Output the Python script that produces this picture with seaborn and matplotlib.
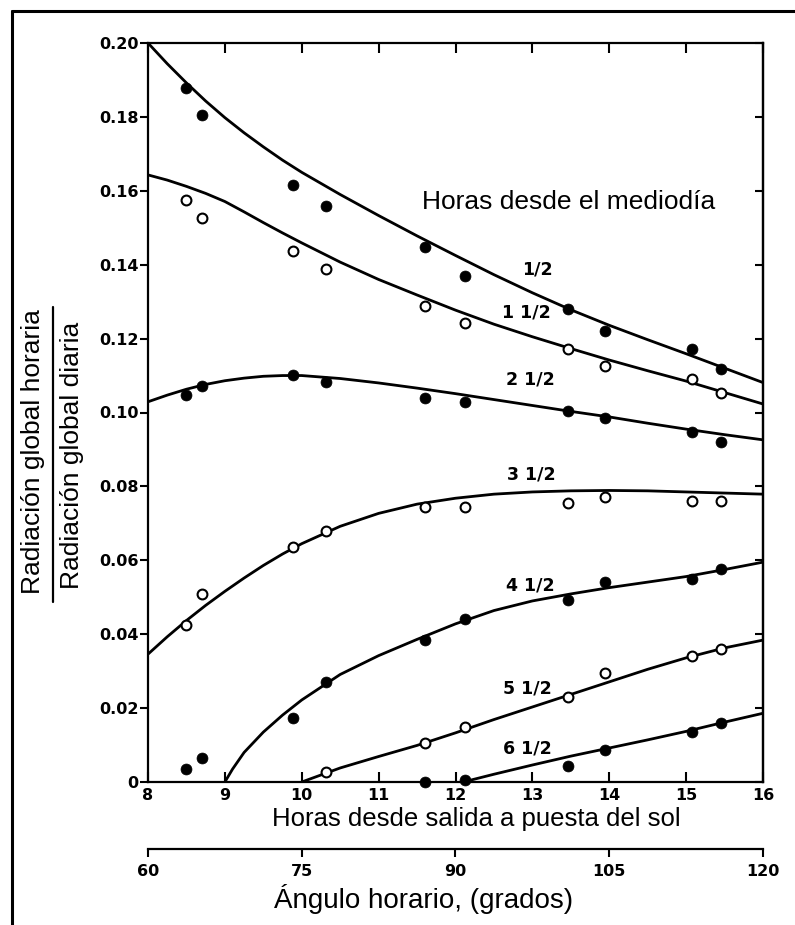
import numpy as np
import pandas as pd
import seaborn as sns
import matplotlib.pyplot as plt
from matplotlib.lines import Line2D

# day length (hours from sunrise to sunset) of the measured points
day_hours = [8.50, 8.70, 9.88, 10.32, 11.60, 12.13, 13.46, 13.95, 15.07, 15.46]

# measured ratios, one list per "hours from noon" group
pts_05 = [0.1877, 0.1805, 0.1616, 0.1559, 0.1447, 0.1369, 0.1279, 0.1221, 0.1172, 0.1118]
pts_15 = [0.1575, 0.1527, 0.1438, 0.1388, 0.1289, 0.1241, 0.1172, 0.1127, 0.1091, 0.1054]
pts_25 = [0.1047, 0.1072, 0.1101, 0.1082, 0.1038, 0.1029, 0.1004, 0.0984, 0.0948, 0.0921]
pts_35 = [0.0425, 0.0509, 0.0635, 0.0680, 0.0745, 0.0743, 0.0754, 0.0771, 0.0760, 0.0761]
pts_45 = [0.0034, 0.0064, 0.0174, 0.0271, 0.0384, 0.0440, 0.0493, 0.0542, 0.0549, 0.0576]
pts_55 = [np.nan, np.nan, np.nan, 0.0028, 0.0105, 0.0150, 0.0231, 0.0294, 0.0341, 0.0360]
pts_65 = [np.nan, np.nan, np.nan, np.nan, 0.0000, 0.0005, 0.0044, 0.0087, 0.0136, 0.0160]

# fitted curves
curve_h = [8, 8.25, 8.5, 8.75, 9, 9.25, 9.5, 9.75, 10, 10.5, 11, 11.5, 12, 12.5, 13, 13.5, 14, 14.5, 15, 15.5, 16]
curve_05 = [0.2000, 0.1944, 0.1892, 0.1843, 0.1798, 0.1757, 0.1719, 0.1683, 0.1650, 0.1590,
            0.1533, 0.1478, 0.1425, 0.1373, 0.1324, 0.1278, 0.1236, 0.1197, 0.1159, 0.1120, 0.1081]
curve_15 = [0.1643, 0.1629, 0.1612, 0.1593, 0.1571, 0.1543, 0.1514, 0.1486, 0.1459, 0.1407,
            0.1360, 0.1318, 0.1277, 0.1239, 0.1205, 0.1173, 0.1142, 0.1113, 0.1085, 0.1054, 0.1023]
curve_25 = [0.1029, 0.1047, 0.1063, 0.1076, 0.1086, 0.1093, 0.1098, 0.1100, 0.1100, 0.1092,
            0.1080, 0.1066, 0.1051, 0.1035, 0.1019, 0.1003, 0.0988, 0.0971, 0.0955, 0.0940, 0.0926]
curve_35 = [0.0346, 0.0393, 0.0437, 0.0478, 0.0516, 0.0552, 0.0586, 0.0617, 0.0645, 0.0692,
            0.0727, 0.0752, 0.0768, 0.0779, 0.0785, 0.0788, 0.0789, 0.0788, 0.0785, 0.0782, 0.0779]
curve_45_h = [9.0, 9.1, 9.25, 9.5, 9.75, 10, 10.5, 11, 11.5, 12, 12.5, 13, 13.5, 14, 14.5, 15, 15.5, 16]
curve_45 = [0.0, 0.0035, 0.0080, 0.0135, 0.0181, 0.0222, 0.0291, 0.0342, 0.0386, 0.0428,
            0.0464, 0.0490, 0.0509, 0.0526, 0.0541, 0.0556, 0.0575, 0.0595]
curve_55_h = [10.0, 10.5, 11, 11.5, 12, 12.5, 13, 13.5, 14, 14.5, 15, 15.5, 16]
curve_55 = [0.0, 0.0038, 0.0069, 0.0099, 0.0133, 0.0169, 0.0203, 0.0237, 0.0271,
            0.0305, 0.0336, 0.0363, 0.0384]
curve_65_h = [12.1, 12.5, 13, 13.5, 14, 14.5, 15, 15.5, 16]
curve_65 = [0.0, 0.0021, 0.0046, 0.0070, 0.0092, 0.0114, 0.0137, 0.0162, 0.0186]

group_labels = ["1/2", "1 1/2", "2 1/2", "3 1/2", "4 1/2", "5 1/2", "6 1/2"]
filled = [True, False, True, False, True, False, True]
label_x = [13.06, 12.92, 12.98, 12.98, 12.97, 12.94, 12.94]
label_y = [0.1386, 0.1271, 0.1090, 0.0831, 0.0533, 0.0253, 0.0091]

y_ticks = [0, 0.02, 0.04, 0.06, 0.08, 0.10, 0.12, 0.14, 0.16, 0.18, 0.20]
y_ticklabels = ["0", "0.02", "0.04", "0.06", "0.08", "0.10", "0.12", "0.14", "0.16", "0.18", "0.20"]
x_ticks = [8, 9, 10, 11, 12, 13, 14, 15, 16]
angle_ticks = [60, 75, 90, 105, 120]

pts = [pts_05, pts_15, pts_25, pts_35, pts_45, pts_55, pts_65]
curves = [(curve_h, curve_05), (curve_h, curve_15), (curve_h, curve_25), (curve_h, curve_35),
          (curve_45_h, curve_45), (curve_55_h, curve_55), (curve_65_h, curve_65)]

pts_df = pd.concat([pd.DataFrame({"horas": day_hours, "ratio": p, "grupo": g, "lleno": f})
                    for p, g, f in zip(pts, group_labels, filled)]).dropna()
curve_df = pd.concat([pd.DataFrame({"horas": h, "ratio": v, "grupo": g})
                      for (h, v), g in zip(curves, group_labels)])

sns.set_style("ticks")
plt.rcParams["font.family"] = ["Liberation Sans", "DejaVu Sans"]
plt.rcParams.update({"text.color": "black", "axes.edgecolor": "black",
                     "xtick.color": "black", "ytick.color": "black",
                     "axes.labelcolor": "black"})

W, H = 795, 925
fig = plt.figure(figsize=(W / 100, H / 100), dpi=100)
ax = fig.add_axes([148 / W, 1 - 782 / H, (763 - 148) / W, (782 - 43) / H])

sns.lineplot(data=curve_df, x="horas", y="ratio", units="grupo", estimator=None,
             sort=False, color="black", lw=2.0, ax=ax, zorder=2)
sns.scatterplot(data=pts_df[pts_df["lleno"]], x="horas", y="ratio", color="black",
                edgecolor="black", linewidth=0.5, s=62, ax=ax, zorder=3, clip_on=False)
sns.scatterplot(data=pts_df[~pts_df["lleno"]], x="horas", y="ratio", color="white",
                edgecolor="black", linewidth=1.5, s=50, ax=ax, zorder=3, clip_on=False)

for lx, ly, g in zip(label_x, label_y, group_labels):
    ax.text(lx, ly, g, ha="center", va="center", fontsize=12.5, fontweight="bold",
            family="DejaVu Sans", zorder=4)
ax.text(13.47, 0.157, "Horas desde el mediodía", ha="center", va="center", fontsize=19)

ax.set_xlim(8, 16)
ax.set_ylim(0, 0.20)
ax.set_xticks(x_ticks)
ax.set_yticks(y_ticks)
ax.set_yticklabels(y_ticklabels)
ax.set_xlabel("")
ax.set_ylabel("")
for sp in ax.spines.values():
    sp.set_visible(True)
    sp.set_linewidth(1.6)
    sp.set_color("black")
ax.tick_params(axis="x", direction="in", top=True, length=7, width=1.5, pad=4.5)
ax.tick_params(axis="y", direction="out", length=5.5, width=1.5, pad=1.5)
for lab in ax.get_xticklabels() + ax.get_yticklabels():
    lab.set_family("DejaVu Sans")
    lab.set_fontweight("bold")
    lab.set_fontsize(11.5)

# right side ticks point inwards
right = ax.secondary_yaxis("right")
right.set_yticks(y_ticks)
right.tick_params(direction="in", length=6, width=1.5, labelright=False)
right.spines["right"].set_linewidth(1.6)

# hour angle scale below the plot
sec = ax.secondary_xaxis(-(849 - 782) / (782 - 43), functions=(lambda h: h * 7.5, lambda a: a / 7.5))
sec.set_xticks(angle_ticks)
sec.tick_params(direction="out", length=6, width=1.5, pad=5)
sec.spines["bottom"].set_linewidth(1.6)
for lab in sec.get_xticklabels():
    lab.set_family("DejaVu Sans")
    lab.set_fontweight("bold")
    lab.set_fontsize(11.5)

fig.text(476 / W, 1 - 819 / H, "Horas desde salida a puesta del sol", ha="center", va="center", fontsize=18.5)
fig.text(424 / W, 1 - 899 / H, "Ángulo horario, (grados)", ha="center", va="center", fontsize=20)

fig.text(33 / W, 1 - 452 / H, "Radiación global horaria", rotation=90, ha="center", va="center", fontsize=19)
fig.text(72 / W, 1 - 455 / H, "Radiación global diaria", rotation=90, ha="center", va="center", fontsize=19)
fig.add_artist(Line2D([53 / W, 53 / W], [1 - 307 / H, 1 - 602 / H], transform=fig.transFigure,
                      color="black", lw=1.6))

# outer frame
fig.add_artist(Line2D([12 / W, 12 / W], [0, 1 - 11 / H], transform=fig.transFigure, color="black", lw=2.2))
fig.add_artist(Line2D([12 / W, 1], [1 - 11 / H, 1 - 11 / H], transform=fig.transFigure, color="black", lw=2.2))

fig.savefig("out.png", dpi=100)
